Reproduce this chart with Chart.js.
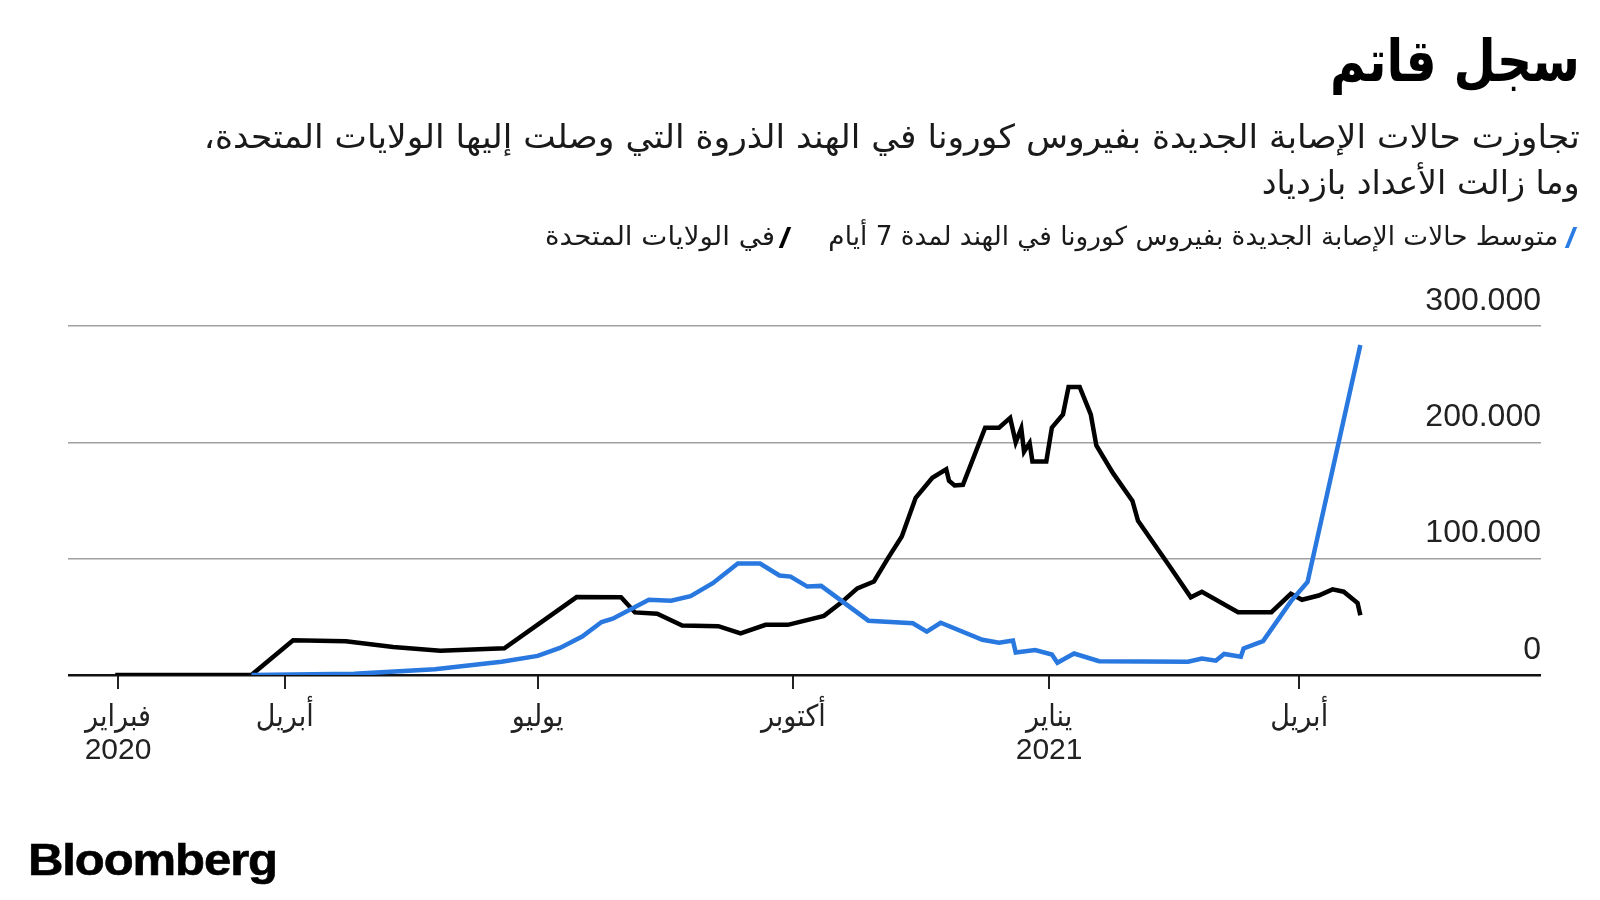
<!DOCTYPE html>
<html lang="ar">
<head>
<meta charset="utf-8">
<script src="https://cdn.jsdelivr.net/npm/chart.js@4.4.1/dist/chart.umd.min.js"></script>
<style>
  html, body { margin: 0; padding: 0; background: #fff; }
  #wrap { position: relative; width: 1600px; height: 900px; overflow: hidden; }
  #chart { position: absolute; left: 0; top: 0; }
  .txt { position: absolute; white-space: nowrap; direction: rtl; line-height: 1;
         font-family: "DejaVu Sans Condensed", "DejaVu Sans", sans-serif; color: #1a1a1a;
         transform-origin: right center; }
  #title { right: 20px; top: 32px; font-size: 58px; font-weight: bold; color: #000; }
  #sub1 { right: 20px; top: 120px; font-size: 33px; }
  #sub2 { right: 20px; top: 166px; font-size: 33px; }
  .leg { top: 223px; font-size: 26px; }
  #leg1 { right: 42px; }
  #leg2 { right: 825px; }
  .slash { position: absolute; top: 227px; width: 4px; height: 21px; transform: skewX(-22deg); }
  #logo { left: 28px; top: 837px; font-family: "Liberation Sans", Arial, sans-serif; font-weight: bold;
          font-size: 45px; direction: ltr; letter-spacing: -1px; color: #000; transform-origin: left center;
          position: absolute; white-space: nowrap; line-height: 1; -webkit-text-stroke: 0.6px #000; }
</style>
</head>
<body>
<div id="wrap">
  <canvas id="chart" width="1600" height="900"></canvas>
  <div class="txt" id="title">سجل قاتم</div>
  <div class="txt" id="sub1">تجاوزت حالات الإصابة الجديدة بفيروس كورونا في الهند الذروة التي وصلت إليها الولايات المتحدة،</div>
  <div class="txt" id="sub2">وما زالت الأعداد بازدياد</div>
  <div class="slash" style="left:1569px; background:#2a7be4;"></div>
  <div class="txt leg" id="leg1">متوسط حالات الإصابة الجديدة بفيروس كورونا في الهند لمدة 7 أيام</div>
  <div class="slash" style="left:783px; background:#000;"></div>
  <div class="txt leg" id="leg2">في الولايات المتحدة</div>
  <div id="logo">Bloomberg</div>
</div>
<script>
// India, 7-day average of new cases
const indiaDates = ["2020-03-20","2020-04-26","2020-05-25","2020-06-18","2020-07-01","2020-07-09","2020-07-17",
  "2020-07-24","2020-07-28","2020-08-10","2020-08-18","2020-08-25","2020-09-02","2020-09-11","2020-09-19",
  "2020-09-26","2020-09-30","2020-10-06","2020-10-11","2020-10-28","2020-11-13","2020-11-18","2020-11-23",
  "2020-12-08","2020-12-14","2020-12-19","2020-12-20","2020-12-27","2021-01-02","2021-01-04","2021-01-10",
  "2021-01-19","2021-02-20","2021-02-25","2021-03-02","2021-03-05","2021-03-11","2021-03-12","2021-03-19",
  "2021-03-29","2021-04-04","2021-04-23"];
const indiaCases = [0, 1000, 4900, 11400, 16400, 23300, 33000,
  45500, 48400, 64700, 63800, 67700, 78900, 95800, 95800,
  85500, 84600, 76000, 76600, 46700, 44500, 37300, 44900,
  30300, 27700, 29600, 19400, 21500, 17600, 10500, 18500,
  11800, 11400, 14200, 12300, 18100, 15800, 22800, 29200,
  63300, 80000, 283700];

// United States, 7-day average of new cases
const usDates = ["2020-01-31","2020-03-20","2020-04-04","2020-04-23","2020-05-10","2020-05-27","2020-06-19",
  "2020-07-15","2020-07-31","2020-08-05","2020-08-13","2020-08-22","2020-09-04","2020-09-12","2020-09-21",
  "2020-09-29","2020-10-12","2020-10-18","2020-10-24","2020-10-30","2020-11-04","2020-11-09","2020-11-14",
  "2020-11-20","2020-11-25","2020-11-26","2020-11-28","2020-12-01","2020-12-09","2020-12-14","2020-12-18",
  "2020-12-20","2020-12-22","2020-12-23","2020-12-25","2020-12-26","2020-12-31","2021-01-02","2021-01-06",
  "2021-01-08","2021-01-12","2021-01-16","2021-01-18","2021-01-24","2021-01-31","2021-02-02","2021-02-13",
  "2021-02-21","2021-02-25","2021-03-10","2021-03-22","2021-03-29","2021-04-02","2021-04-08","2021-04-13",
  "2021-04-17","2021-04-22","2021-04-23"];
const usCases = [0, 0, 29800, 29000, 24000, 20900, 23000,
  67000, 66800, 53800, 52600, 42500, 42000, 35700, 43100,
  43100, 50800, 61800, 74500, 80400, 100300, 119000, 152300,
  169600, 176800, 167000, 163000, 163500, 212600, 212600, 221000,
  200000, 212000, 192000, 199500, 183600, 183600, 212600, 224000,
  247600, 247600, 224000, 197400, 173500, 149600, 132500, 94800,
  66800, 71500, 54000, 54000, 69800, 64700, 68300, 73600,
  71600, 61800, 51400];

// x axis ticks (first of month) and labels
const tickDates = ["2020-02-01","2020-04-01","2020-07-01","2020-10-01","2021-01-01","2021-04-01"];
const tickLabels = [["فبراير","2020"], "أبريل", "يوليو", "أكتوبر", ["يناير","2021"], "أبريل"];
const axisStart = "2020-01-14";
const axisEnd = "2021-06-27";
const yTicks = [0, 100000, 200000, 300000];

const BASE = Date.UTC(2020, 1, 1);
function dayOf(s) {
  const [y, m, d] = s.split("-").map(Number);
  return (Date.UTC(y, m - 1, d) - BASE) / 86400000;
}
const toPoints = (dates, vals) => dates.map((d, i) => ({ x: dayOf(d), y: vals[i] }));
const tickDays = tickDates.map(dayOf);

Chart.defaults.font.family = "'Liberation Sans', 'DejaVu Sans Condensed', 'DejaVu Sans', sans-serif";
Chart.defaults.color = "#222";

new Chart(document.getElementById("chart"), {
  type: "line",
  data: {
    datasets: [
      { label: "India", data: toPoints(indiaDates, indiaCases), borderColor: "#2878e0",
        borderWidth: 4.5, pointRadius: 0, tension: 0, order: 0 },
      { label: "US", data: toPoints(usDates, usCases), borderColor: "#000",
        borderWidth: 4.5, pointRadius: 0, tension: 0, order: 1 }
    ]
  },
  options: {
    responsive: false,
    animation: false,
    devicePixelRatio: 1,
    layout: { padding: { left: 68, right: 59, top: 326, bottom: 0 } },
    plugins: { legend: { display: false }, tooltip: { enabled: false } },
    scales: {
      x: {
        type: "linear",
        min: dayOf(axisStart),
        max: dayOf(axisEnd),
        afterFit: s => { s.height = 225; },
        afterBuildTicks: s => { s.ticks = tickDays.map(v => ({ value: v })); },
        border: { display: false },
        grid: { drawOnChartArea: false, drawTicks: true, tickLength: 14, color: "#222", lineWidth: 2 },
        ticks: {
          autoSkip: false, maxRotation: 0, padding: 13, color: "#222",
          font: { size: 30, lineHeight: 1.08 },
          callback: v => tickLabels[tickDays.indexOf(v)]
        }
      },
      y: {
        position: "right",
        min: 0, max: 300000,
        afterFit: s => { s.width = 0; },
        afterBuildTicks: s => { s.ticks = yTicks.map(v => ({ value: v })); },
        border: { display: false },
        grid: {
          drawTicks: false,
          color: c => c.tick.value === 0 ? "#111" : "#a0a0a0",
          lineWidth: c => c.tick.value === 0 ? 2.5 : 1.5
        },
        ticks: {
          mirror: true, padding: 0, labelOffset: -25, color: "#222",
          font: { size: 32 },
          callback: v => v === 0 ? "0" : String(v).replace(/\B(?=(\d{3})+(?!\d))/g, ".")
        }
      }
    }
  }
});

// squeeze the header texts to the widths of the original layout
function fit(id, w) {
  const el = document.getElementById(id);
  el.style.transform = "none";
  const cur = el.getBoundingClientRect().width;
  el.style.transform = `scaleX(${w / cur})`;
}
function fitAll() {
  fit("title", 250);
  fit("sub1", 1376);
  fit("sub2", 318);
  fit("leg1", 730);
  fit("leg2", 230);
  fit("logo", 249);
}
fitAll();
if (document.fonts && document.fonts.ready) document.fonts.ready.then(fitAll);
</script>
</body>
</html>
